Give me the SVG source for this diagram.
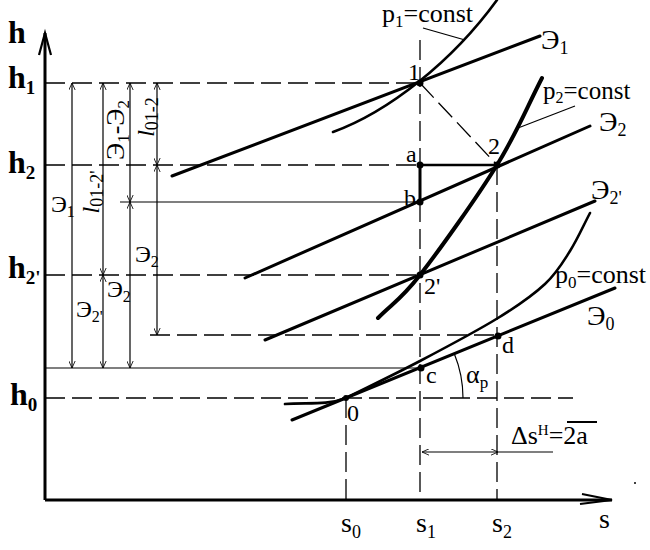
<svg xmlns="http://www.w3.org/2000/svg" width="650" height="550" viewBox="0 0 650 550">
<defs>
<marker id="arr" viewBox="0 0 10 10" refX="10" refY="5" markerWidth="7" markerHeight="7" markerUnits="userSpaceOnUse" orient="auto-start-reverse">
<path d="M0,0.5 L10,5 L0,9.5" fill="none" stroke="#000" stroke-width="1.2"/>
</marker>
</defs>
<style>
.t{font-family:"Liberation Serif","Times New Roman",serif;fill:#000}
.hb{font-family:"Liberation Serif","Times New Roman",serif;font-weight:bold;font-size:32px;fill:#000}
.pt{font-size:24px}
.lb{font-size:26px}
.ee{font-size:28px}
.thin{stroke:#000;stroke-width:1.2;fill:none}
.dash{stroke:#000;stroke-width:1.3;stroke-dasharray:20 7;fill:none}
.dim{stroke:#000;stroke-width:1.2;fill:none;marker-start:url(#arr);marker-end:url(#arr)}
.th{stroke:#000;stroke-width:3;fill:none;stroke-linecap:round}
.th4{stroke:#000;stroke-width:4;fill:none;stroke-linecap:round}
.mid{stroke:#000;stroke-width:2.6;fill:none;stroke-linecap:round}
.dot{fill:#000}
</style>
<rect width="650" height="550" fill="#fff"/>

<g id="axes">
<line x1="45" y1="33" x2="45" y2="500" stroke="#000" stroke-width="3"/>
<line x1="45" y1="500" x2="612" y2="500" stroke="#000" stroke-width="3"/>
<path d="M39,55 L45,33 L51,55" fill="none" stroke="#000" stroke-width="2.2"/>
<path d="M582,494 L612,500 L580,504" fill="none" stroke="#000" stroke-width="2.2"/>
<text class="hb" x="8" y="43">h</text>
<text class="hb" x="8" y="88">h<tspan font-size="19" dy="6">1</tspan></text>
<text class="hb" x="8" y="173">h<tspan font-size="19" dy="6">2</tspan></text>
<text class="hb" x="8" y="278">h<tspan font-size="19" dy="6">2'</tspan></text>
<text class="hb" x="10" y="405">h<tspan font-size="19" dy="6">0</tspan></text>
<text class="t" font-size="28" x="341" y="532">s<tspan font-size="18" dy="6">0</tspan></text>
<text class="t" font-size="28" x="416" y="532">s<tspan font-size="18" dy="6">1</tspan></text>
<text class="t" font-size="28" x="492" y="532">s<tspan font-size="18" dy="6">2</tspan></text>
<text class="t" font-size="28" x="599" y="528">s</text>
</g>

<g id="connectors">
<line class="dash" x1="45" y1="83" x2="420" y2="83"/>
<line class="dash" x1="45" y1="165" x2="420" y2="165"/>
<line class="dash" x1="45" y1="275" x2="420" y2="275"/>
<line class="dash" x1="45" y1="398" x2="573" y2="398"/>
<line class="dash" x1="150" y1="335" x2="498" y2="335"/>
<line class="thin" x1="120" y1="202" x2="420" y2="202"/>
<line class="thin" x1="45" y1="368" x2="422" y2="368"/>
<line class="dash" x1="420" y1="40" x2="420" y2="500"/>
<line class="dash" x1="497" y1="165" x2="497" y2="500"/>
<line class="dash" x1="346" y1="398" x2="346" y2="500"/>
<line class="dash" x1="420" y1="83" x2="497" y2="165"/>
<line class="mid" x1="420" y1="165" x2="497" y2="165"/>
<line class="th" x1="420" y1="202" x2="420" y2="165"/>
<line class="dim" x1="72" y1="83" x2="72" y2="368"/>
<line class="dim" x1="103" y1="83" x2="103" y2="275"/>
<line class="dim" x1="103" y1="275" x2="103" y2="368"/>
<line class="dim" x1="130" y1="83" x2="130" y2="202"/>
<line class="dim" x1="130" y1="202" x2="130" y2="368"/>
<line class="dim" x1="157" y1="83" x2="157" y2="165"/>
<line class="dim" x1="157" y1="165" x2="157" y2="335"/>
<line class="dim" x1="422" y1="452" x2="498" y2="452"/>
<line class="thin" x1="498" y1="452" x2="553" y2="452"/>
<line class="thin" x1="423" y1="28" x2="465" y2="40"/>
<line class="thin" x1="575" y1="106" x2="518" y2="128"/>
<path class="thin" d="M463,398 A117,117 0 0 0 454.3,353.8" stroke-width="1.5"/>
</g>

<g id="dim-labels">
<text class="t" font-size="26" transform="translate(124,130) rotate(-90)" text-anchor="middle">Э<tspan font-size="17" dy="5">1</tspan><tspan dy="-5">-Э</tspan><tspan font-size="17" dy="5">2</tspan></text>
<text class="t" font-size="24" transform="translate(154,117) rotate(-90)" text-anchor="middle"><tspan font-style="italic">l</tspan><tspan font-size="18" dy="4">01-2</tspan></text>
<text class="t" font-size="24" transform="translate(99,192) rotate(-90)" text-anchor="middle"><tspan font-style="italic">l</tspan><tspan font-size="18" dy="4">01-2'</tspan></text>
<text class="t" font-size="24" x="51" y="212">Э<tspan font-size="16" dy="5">1</tspan></text>
<text class="t" font-size="24" x="135" y="262">Э<tspan font-size="16" dy="5">2</tspan></text>
<text class="t" font-size="24" x="107" y="297">Э<tspan font-size="16" dy="5">2</tspan></text>
<text class="t" font-size="24" x="76" y="317">Э<tspan font-size="16" dy="5">2'</tspan></text>
</g>

<g id="curve-E1"><line class="th" x1="172" y1="176" x2="540" y2="36"/>
<text class="t ee" x="541" y="49">Э<tspan font-size="18" dy="5">1</tspan></text></g>
<g id="curve-p1"><path class="mid" d="M333,132 C388,112 452,62 497,0"/>
<text class="t lb" x="382" y="22">p<tspan font-size="17" dy="5">1</tspan><tspan dy="-5">=const</tspan></text></g>
<g id="curve-E2"><line class="th" x1="245" y1="278" x2="590" y2="126"/>
<text class="t ee" x="599" y="131">Э<tspan font-size="18" dy="5">2</tspan></text></g>
<g id="curve-p2"><path class="th4" d="M378,318 C392,303.7 400.2,300.5 420,275 C439.8,249.5 476.7,197.8 497,165 C517.3,132.2 527,107 542,78"/>
<text class="t" font-size="25" x="543" y="99">p<tspan font-size="16" dy="4">2</tspan><tspan dy="-4">=const</tspan></text></g>
<g id="curve-E2p"><line class="th" x1="265" y1="340" x2="595" y2="201"/>
<text class="t ee" x="591" y="199">Э<tspan font-size="18" dy="5">2'</tspan></text></g>
<g id="curve-p0"><path class="mid" d="M285,404 C305,402 326,406 346,398 C366,388 394.7,374.3 420,361 C445.3,347.7 477.2,330.8 498,318 C518.8,305.2 533,295.2 545,284 C557,272.8 562.5,262.8 570,251 C577.5,239.2 583.3,225.7 590,213"/>
<text class="t lb" x="555" y="283">p<tspan font-size="17" dy="5">0</tspan><tspan dy="-5">=const</tspan></text></g>
<g id="curve-E0"><line class="th" x1="292" y1="420" x2="615" y2="288"/>
<text class="t ee" x="587" y="325">Э<tspan font-size="18" dy="5">0</tspan></text></g>

<g id="node-1"><circle class="dot" cx="420" cy="83" r="3.5"/><text class="t pt" x="408" y="80">1</text></g>
<g id="node-2"><circle class="dot" cx="497" cy="165" r="3.5"/><text class="t pt" x="488" y="154">2</text></g>
<g id="node-a"><circle class="dot" cx="420" cy="165" r="3.5"/><text class="t pt" x="406" y="162">a</text></g>
<g id="node-b"><circle class="dot" cx="420" cy="202" r="3.5"/><text class="t pt" x="404" y="206">b</text></g>
<g id="node-2p"><circle class="dot" cx="420" cy="275" r="3.5"/><text class="t pt" x="424" y="294">2'</text></g>
<g id="node-0"><circle class="dot" cx="346" cy="398" r="3"/><text class="t pt" x="347" y="421">0</text></g>
<g id="node-c"><circle class="dot" cx="421" cy="368" r="3.5"/><text class="t pt" x="426" y="383">c</text></g>
<g id="node-d"><circle class="dot" cx="498" cy="336" r="3.5"/><text class="t pt" x="502" y="353">d</text></g>

<g id="angle-label"><text class="t" font-size="26" x="466" y="383">α<tspan font-size="17" dy="5">p</tspan></text></g>
<g id="ds-label">
<text class="t" font-size="26" x="511" y="444">Δs<tspan font-size="15" dy="-9">Н</tspan><tspan dy="9">=2a</tspan></text>
<line x1="567" y1="422" x2="597" y2="422" stroke="#000" stroke-width="2"/>
</g>
<circle cx="635" cy="483" r="1" fill="#000"/>
</svg>
